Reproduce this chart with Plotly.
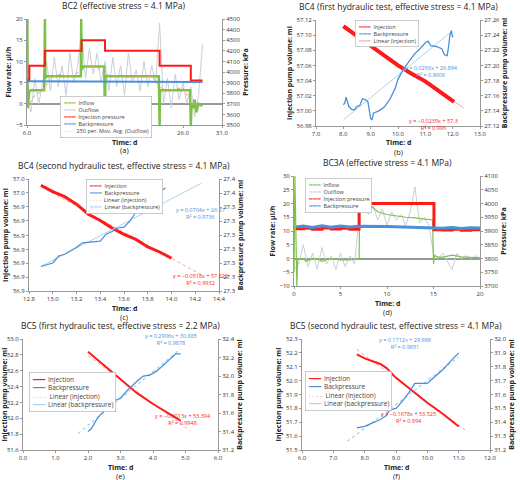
import plotly.graph_objects as go

# ---------- (a) BC2 ----------
a_out_t = [6.0, 6.5, 7.0, 7.5, 8.0, 8.5, 9.0, 9.5, 10.0, 10.5, 11.0, 11.5, 12.0, 12.5, 13.0, 13.5,
           14.0, 14.5, 15.0, 15.5, 16.0, 16.5, 17.0, 17.5, 18.0, 18.5, 19.0, 19.5, 20.0, 20.5, 21.0,
           21.5, 22.0, 22.5, 23.0, 23.5, 24.0, 24.5, 25.0, 25.5, 26.0, 26.5, 27.0, 27.5, 28.0, 28.5]
a_out = [2, -2, 6, 0, 5, 10, 3, 11, 4, 9, 2, 12, 5, 9, 17, 6, 13, 7, 12, 5, 10, 3, 11, 4, 9, 2, 12,
         5, 8, 3, 10, 4, 9, 5, 19, 0, 6, -1, 7, 1, 5, 0, 4, -3, 2, 14]
a_avg_t = [6, 7, 8, 9, 10, 11, 12, 13, 14, 15, 16, 17, 18, 19, 20, 21, 22, 23, 24, 25, 26, 27, 28]
a_avg = [-1, 2, 3, 6, 7, 6.5, 6.8, 8, 9, 8.5, 7, 6.5, 6.8, 6.2, 6.6, 6.3, 6.5, 4, 3, 3.5, 3.8, 0.5, -0.5]
a_in_t = [6.0, 6.05, 6.1, 6.3, 6.5, 8.2, 8.3, 8.35, 8.5, 12.9, 12.95, 13.0, 13.2, 15.9, 16.0, 16.05,
          16.2, 22.9, 23.0, 23.05, 23.2, 26.9, 27.0, 27.1, 27.3, 27.5, 27.7, 28.0, 28.5]
a_in = [0, 20, -1, 3, 3.2, 3.2, 20, 6, 6.5, 6.5, 20, 8, 8.8, 8.8, -5, 6.5, 6.5, 6.5, -5, 3.2, 3.2, 3.2,
        -5, 0, -1, 1, -2, 0, -0.5]
a_inj_t = [6.0, 6.3, 8.3, 13.0, 16.0, 23.0, 27.0, 28.5]
a_inj = [3920, 4060, 4200, 4300, 4200, 4060, 3920, 3920]
a_bp_t = [6.0, 22.9, 23.1, 28.5]
a_bp = [3912, 3912, 3905, 3905]

# ---------- (b) BC4 first ----------
b_inj_t = [8.0, 8.5, 9.0, 9.5, 10.0, 10.5, 11.0, 11.5, 12.05]
b_inj = [57.112, 57.099, 57.085, 57.073, 57.060, 57.049, 57.039, 57.026, 57.012]
b_bp_t = [8.0, 8.05, 8.1, 8.2, 8.3, 8.4, 8.5, 8.6, 8.7, 8.8, 8.9, 9.0, 9.05, 9.1, 9.3, 9.5, 9.7, 9.9,
          10.0, 10.2, 10.4, 10.6, 10.8, 11.0, 11.1, 11.2, 11.4, 11.6, 11.7, 11.8, 11.85, 11.9, 11.95, 12.0]
b_bp = [27.148, 27.150, 27.158, 27.146, 27.142, 27.141, 27.146, 27.147, 27.156, 27.155, 27.152, 27.130,
        27.128, 27.137, 27.140, 27.145, 27.155, 27.170, 27.182, 27.195, 27.205, 27.215, 27.222, 27.230,
        27.232, 27.226, 27.225, 27.222, 27.214, 27.213, 27.225, 27.240, 27.246, 27.237]
b_lin_inj_t = [8.0, 12.4]
b_lin_inj = [57.109, 57.004]
b_lin_bp_t = [8.0, 12.0]
b_lin_bp = [27.128, 27.246]

# ---------- (c) BC4 second ----------
c_inj_t = [12.9, 13.0, 13.1, 13.2, 13.3, 13.4, 13.5, 13.6, 13.7, 13.8, 13.9, 14.0]
c_inj = [56.955, 56.950, 56.946, 56.940, 56.932, 56.927, 56.921, 56.916, 56.912, 56.906, 56.902, 56.897]
c_bp_t = [12.9, 13.0, 13.05, 13.1, 13.2, 13.25, 13.4, 13.45, 13.5, 13.55, 13.6, 13.65, 13.7, 13.75,
          13.8, 13.85, 13.9, 13.95]
c_bp = [27.278, 27.282, 27.290, 27.292, 27.300, 27.305, 27.307, 27.315, 27.318, 27.322, 27.323, 27.330,
        27.340, 27.350, 27.355, 27.360, 27.363, 27.368]
c_lin_t = [12.9, 14.25]
c_lin_inj = [56.954, 56.884]
c_lin_bp = [27.278, 27.373]
c_left_ticks = [56.871, 56.882, 56.893, 56.904, 56.915, 56.927, 56.938, 56.949, 56.960]
c_left_text = ["56.9", "56.9", "56.9", "56.9", "56.9", "56.9", "56.9", "57.0", "57.0"]
c_right_ticks = [27.250, 27.266, 27.282, 27.298, 27.314, 27.330, 27.346, 27.362, 27.378]
c_right_text = ["27.3", "27.3", "27.3", "27.3", "27.3", "27.3", "27.3", "27.4", "27.4"]

# ---------- (d) BC3A ----------
d_out_t = [0, 0.5, 1, 1.5, 2, 2.5, 3, 3.5, 4, 4.5, 5, 5.5, 6, 6.5, 7, 7.5, 8, 8.5, 9, 9.5, 10, 10.5,
           11, 11.5, 12, 12.5, 13, 13.5, 14, 14.5, 15, 15.5, 16, 16.5, 17, 17.5, 18, 18.5, 19, 19.5, 20]
d_out = [-4, -2, 5, -3, 2, -4, 4, -2, 1, -4, 2, -3, 1, -2, 15, 26, 16, 19, 14, 18, 12, 17, 14, 16, 12,
         17, 26, 13, 15, 12, 2, 0, 2, -1, -4, 2, 0, 1, 0, 1, 0]
d_in_t = [0, 0.1, 0.2, 0.3, 0.4, 0.6, 1, 1.3, 2, 2.5, 3, 4, 5, 6, 6.9, 7.0, 7.1, 7.5, 8, 9, 10, 11, 12,
          13, 14, 14.9, 15.0, 15.1, 15.5, 16, 17, 18, 19, 20]
d_in = [-5, 30, 10, -10, 0, 0, 0, -1, 0, 0, -1, 0, -0.5, -0.5, 0, 0, 28, 24, 20, 17, 16, 15.5, 15, 14.8,
        14.3, 14, -2, 1, 0.5, 0.5, 1.2, 0.6, 0.4, 0.3]
d_inj_t = [0.2, 1, 2, 3, 4, 5, 6, 6.95, 7.0, 15.0, 15.05, 16, 17, 18, 19, 20]
d_inj = [3908, 3910, 3906, 3911, 3907, 3910, 3906, 3910, 4000, 4000, 3905, 3904, 3906, 3903, 3905, 3904]
d_bp_t = [0.2, 1, 2, 3, 4, 5, 6, 7, 10, 15, 16, 17, 18, 19, 20]
d_bp = [3915, 3918, 3913, 3919, 3914, 3918, 3915, 3917, 3916, 3913, 3910, 3913, 3909, 3912, 3911]

# ---------- (e) BC5 first ----------
e_inj_t = [2.0, 2.5, 3.0, 3.5, 4.0, 4.5, 4.85]
e_inj = [52.84, 52.67, 52.50, 52.32, 52.18, 52.06, 51.97]
e_bp_t = [2.0, 2.1, 2.3, 2.5, 2.8, 3.0, 3.2, 3.5, 3.7, 3.9, 4.1, 4.3, 4.5, 4.7, 4.85]
e_bp = [31.40, 31.43, 31.55, 31.62, 31.73, 31.76, 31.84, 31.94, 32.00, 32.01, 32.05, 32.11, 32.18,
        32.24, 32.24]
e_lin_inj_t = [2.0, 5.15]
e_lin_inj = [52.79, 51.842]
e_lin_bp_t = [1.7, 4.85]
e_lin_bp = [31.379, 32.294]

# ---------- (f) BC5 second ----------
f_inj_t = [7.75, 8.0, 8.5, 8.7, 9.0, 9.5, 10.0, 10.5, 11.0]
f_inj = [52.19, 52.16, 52.12, 52.09, 52.02, 51.93, 51.84, 51.76, 51.67]
f_bp_t = [7.75, 8.0, 8.2, 8.5, 8.7, 8.8, 9.0, 9.2, 9.4, 9.6, 9.8, 10.0, 10.2, 10.5, 10.7, 11.0]
f_bp = [31.36, 31.37, 31.39, 31.42, 31.45, 31.49, 31.50, 31.55, 31.61, 31.68, 31.68, 31.68, 31.72,
        31.78, 31.83, 31.90]
f_lin_inj_t = [7.75, 11.3]
f_lin_inj = [52.225, 51.629]
f_lin_bp_t = [7.45, 11.0]
f_lin_bp = [31.263, 31.871]

RED = "#ff1a1a"
BLUE = "#4a90d9"
GREEN = "#7cc24a"
GREY = "#c8d0dc"
PINK = "#f4a0a0"
LBLUE = "#a8d4f0"
ORANGE = "#f0a060"

fig = go.Figure()


def add(k, side, x, y, color, width, dash=None, shape="linear"):
    ya = 2 * k - 1 if side == "L" else 2 * k
    fig.add_trace(go.Scatter(
        x=x, y=y, mode="lines", showlegend=False, hoverinfo="skip",
        xaxis="x" if k == 1 else f"x{k}", yaxis="y" if ya == 1 else f"y{ya}",
        line=dict(color=color, width=width, dash=dash, shape=shape)))


# (a)
add(1, "L", a_out_t, a_out, GREY, 1)
add(1, "L", a_in_t, a_in, GREEN, 2.5)
add(1, "R", a_inj_t, a_inj, RED, 2, shape="hv")
add(1, "R", a_bp_t, a_bp, BLUE, 2)
add(1, "L", a_avg_t, a_avg, ORANGE, 1, dash="dot")
# (b)
add(2, "L", b_lin_inj_t, b_lin_inj, PINK, 1)
add(2, "R", b_lin_bp_t, b_lin_bp, LBLUE, 1)
add(2, "L", b_inj_t, b_inj, RED, 4)
add(2, "R", b_bp_t, b_bp, BLUE, 1.3)
# (c)
add(3, "L", c_lin_t, c_lin_inj, PINK, 1, dash="dot")
add(3, "R", c_lin_t, c_lin_bp, LBLUE, 1)
add(3, "L", c_inj_t, c_inj, RED, 3)
add(3, "R", c_bp_t, c_bp, BLUE, 1.2)
# (d)
add(4, "L", d_out_t, d_out, GREY, 1)
add(4, "L", d_in_t, d_in, GREEN, 1.2)
add(4, "R", d_inj_t, d_inj, RED, 3, shape="hv")
add(4, "R", d_bp_t, d_bp, BLUE, 3)
# (e)
add(5, "L", e_lin_inj_t, e_lin_inj, PINK, 1, dash="dot")
add(5, "R", e_lin_bp_t, e_lin_bp, LBLUE, 1.3, dash="dot")
add(5, "L", e_inj_t, e_inj, RED, 2)
add(5, "R", e_bp_t, e_bp, BLUE, 1.3)
# (f)
add(6, "L", f_lin_inj_t, f_lin_inj, PINK, 1, dash="dot")
add(6, "R", f_lin_bp_t, f_lin_bp, LBLUE, 1.3, dash="dot")
add(6, "L", f_inj_t, f_inj, RED, 2)
add(6, "R", f_bp_t, f_bp, BLUE, 1.3)

SOLID = "━━━"
DASHED = "- - - -"
leg_a = [(SOLID, GREEN, "Inflow"), (SOLID, GREY, "Outflow"), (SOLID, RED, "Injection pressure"),
         (SOLID, BLUE, "Backpressure"), ("·······", ORANGE, "250 per. Mov. Avg. (Outflow)")]
leg_b = [(SOLID, RED, "Injection"), (SOLID, BLUE, "Backpressure"), (SOLID, PINK, "Linear (injection)")]
leg_cef = [(SOLID, RED, "Injection"), (SOLID, BLUE, "Backpressure"), (DASHED, PINK, "Linear (injection)"),
           (SOLID, LBLUE, "Linear (backpressure)")]
leg_d = [(SOLID, GREEN, "Inflow"), (SOLID, GREY, "Outflow"), (SOLID, RED, "Injection pressure"),
         (SOLID, BLUE, "Backpressure")]

# pixel boxes of the plot areas: left, right, top, bottom
panels = [
    ([27, 222, 19, 125], [6, 31], 5, [-5, 20], 5, [3500, 4500], 100,
     "BC2 (effective stress = 4.1 MPa)", "(a)", "Flow rate: µl/h", "Pressure: kPa", leg_a, [60, 96], 5.5),
    ([316, 480, 20, 126], [7, 13], 1, [56.98, 57.12], 0.02, [27.12, 27.26], 0.02,
     "BC4 (first hydraulic test, effective stress = 4.1 MPa)", "(b)", "Injection pump volume: ml",
     "Backpressure pump volume: ml", leg_b, [355, 20], 5.5),
    ([29, 219, 179, 291], [12.8, 14.4], 0.2, [56.871, 56.960], None, [27.25, 27.378], None,
     "BC4 (second hydraulic test, effective stress = 4.1 MPa)", "(c)", "Injection pump volume: ml",
     "Backpressure pump volume: ml", leg_cef, [86, 179], 5.5),
    ([294, 480, 176, 286], [0, 20], 5, [-10, 30], 5, [3700, 4100], 50,
     "BC3A (effective stress = 4.1 MPa)", "(d)", "Flow rate: µl/h", "Pressure: kPa", leg_d, [305, 178], 5.5),
    ([23, 218, 339, 450], [0, 6], 1, [51.6, 53.0], 0.2, [31.2, 32.4], 0.2,
     "BC5 (first hydraulic test, effective stress = 2.2 MPa)", "(e)", "Injection pump volume: ml",
     "Backpressure pump volume: ml", leg_cef, [29, 372], 6.5),
    ([302, 490, 339, 450], [6, 12], 1, [51.5, 52.3], 0.1, [31.2, 32.0], 0.1,
     "BC5 (second hydraulic test, effective stress = 4.1 MPa)", "(f)", "Injection pump volume: ml",
     "Backpressure pump volume: ml", leg_cef, [305, 371], 6.5),
]

FONT = "Open Sans"
tickf = dict(size=6, family=FONT, color="#333")
labf = dict(size=7, family=FONT, color="#222")
layout = {}
annos = []
for i, (box, xr, xdt, lr, ldt, rr, rdt, title, cap, ll, rl, leg, lpos, lfs) in enumerate(panels):
    k = i + 1
    xd = [box[0] / 520, box[1] / 520]
    yd = [1 - box[3] / 480, 1 - box[2] / 480]
    xn = "xaxis" if k == 1 else f"xaxis{k}"
    yl = "yaxis" if k == 1 else f"yaxis{2 * k - 1}"
    yr = f"yaxis{2 * k}"
    xref = "x" if k == 1 else f"x{k}"
    ylref = "y" if k == 1 else f"y{2 * k - 1}"
    layout[xn] = dict(domain=xd, range=xr, tick0=xr[0], dtick=xdt, tickformat="d" if k == 4 else ".1f",
                      anchor=ylref, showline=True, linecolor="#999", ticks="outside", ticklen=2,
                      tickcolor="#999", tickfont=tickf, showgrid=False, zeroline=False, automargin=False)
    common = dict(showline=True, linecolor="#999", ticks="outside", ticklen=2, tickcolor="#999",
                  tickfont=tickf, showgrid=False, domain=yd, anchor=xref, zeroline=False, automargin=False)
    left = dict(common, range=lr, title=dict(text=f"<b>{ll}</b>", font=labf, standoff=3))
    right = dict(common, range=rr, overlaying=ylref, side="right",
                 title=dict(text=f"<b>{rl}</b>", font=labf, standoff=3))
    if k == 3:
        left.update(tickvals=c_left_ticks, ticktext=c_left_text)
        right.update(tickvals=c_right_ticks, ticktext=c_right_text)
    else:
        left.update(tick0=lr[0], dtick=ldt, tickformat=".2f" if k == 2 else (".1f" if ldt < 1 else "d"))
        right.update(tick0=rr[0], dtick=rdt, tickformat=".2f" if k == 2 else (".1f" if rdt < 1 else "d"))
    if k in (1, 4):
        left.update(zeroline=True, zerolinecolor="#999", zerolinewidth=1.5)
    layout[yl] = left
    layout[yr] = right
    # legend box as a text block
    rows = [f"<span style='color:{c}'>{s}</span>  {name}" for s, c, name in leg]
    annos.append(dict(text="<br>".join(rows), x=lpos[0] / 520, y=1 - lpos[1] / 480,
                      xref="paper", yref="paper", xanchor="left", yanchor="top", align="left",
                      showarrow=False, bgcolor="white", bordercolor="#aaa", borderwidth=0.6, borderpad=2,
                      font=dict(size=lfs, family=FONT, color="#444")))
    xc = sum(xd) / 2
    annos.append(dict(text=title, x=xc, y=yd[1] + 0.012, xref="paper", yref="paper",
                      xanchor="center", yanchor="bottom", showarrow=False,
                      font=dict(size=8.5, family=FONT, color="#222")))
    annos.append(dict(text="<b>Time: d</b>", x=xc, y=1 - (box[3] + 17) / 480, xref="paper", yref="paper",
                      xanchor="center", yanchor="middle", showarrow=False, font=labf))
    annos.append(dict(text=cap, x=xc, y=1 - (box[3] + 25.5) / 480, xref="paper", yref="paper",
                      xanchor="center", yanchor="middle", showarrow=False,
                      font=dict(size=7.5, family=FONT, color="#222")))

eqs = [
    (460, 62, "y = 0.0293x + 26.894<br>R² = 0.8606", BLUE),
    (460, 115, "y = −0.0239x + 57.3<br>R² = 0.996", RED),
    (200, 213, "y = 0.0704x + 26.37<br>R² = 0.9736", BLUE),
    (200, 279, "y = −0.0518x + 57.622<br>R² = 0.9932", RED),
    (143, 349, "y = 0.2906x + 30.885<br>R² = 0.9878", BLUE),
    (153, 429, "y = −0.3013x + 53.394<br>R² = 0.9948", RED),
    (433, 353, "y = 0.1712x + 29.988<br>R² = 0.9851", BLUE),
    (438, 427, "y = −0.1678x + 53.525<br>R² = 0.994", RED),
]
for x, y, t, c in eqs:
    annos.append(dict(text=t, x=x / 520, y=1 - y / 480, xref="paper", yref="paper", showarrow=False,
                      align="center", font=dict(size=5.5, family=FONT, color=c)))

fig.update_layout(**layout)
fig.update_layout(width=520, height=480, margin=dict(l=0, r=0, t=0, b=0, autoexpand=False),
                  paper_bgcolor="white", plot_bgcolor="white", annotations=annos)
# the page body has a default 8px margin; drop it so the figure sits at the window corner
fig.write_html("out.html", config={"displayModeBar": False},
               post_script="document.body.style.margin = '0';")
